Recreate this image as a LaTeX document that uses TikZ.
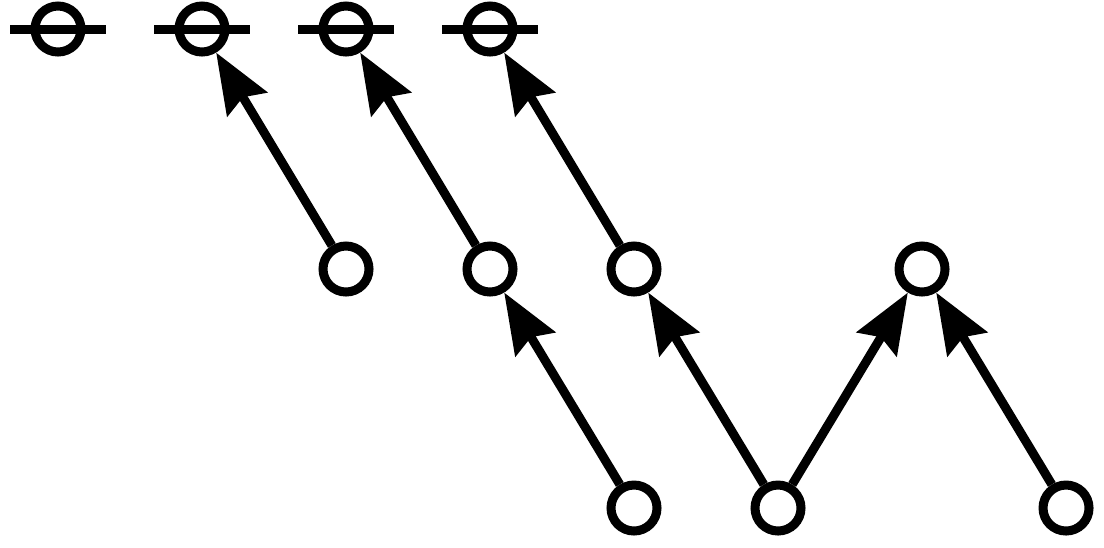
\documentclass[tikz,border=0pt]{standalone}
\usepackage{tikz}
\usetikzlibrary{arrows.meta}

\begin{document}
\begin{tikzpicture}[
  vertex/.style={circle, draw, line width=0.09cm, minimum size=0.46cm, inner sep=0pt},
  edge/.style={line width=0.09cm, -{Stealth[length=0.6cm, width=0.46cm, inset=0.08cm]}},
  bar/.style={line width=0.09cm}]

\useasboundingbox (0,0) rectangle (11.04,5.47);

% top row, crossed out
\foreach \x in {1,...,4}
\node[vertex] (t\x) at (1.44*\x-0.86, 5.18) {};

\foreach \x in {1,...,4}
\draw[bar] ([xshift=-0.48cm]t\x.center) -- ([xshift=0.48cm]t\x.center);

% middle row
\foreach \x in {3,4,5,7}
\node[vertex] (m\x) at (1.44*\x-0.86, 2.78) {};

% bottom row
\foreach \x in {5,6,8}
\node[vertex] (b\x) at (1.44*\x-0.86, 0.39) {};

\draw[edge] (m3) -- (t2);
\draw[edge] (m4) -- (t3);
\draw[edge] (m5) -- (t4);

\draw[edge] (b5) -- (m4);
\draw[edge] (b6) -- (m5);
\draw[edge] (b6) -- (m7);
\draw[edge] (b8) -- (m7);

\end{tikzpicture}
\end{document}
